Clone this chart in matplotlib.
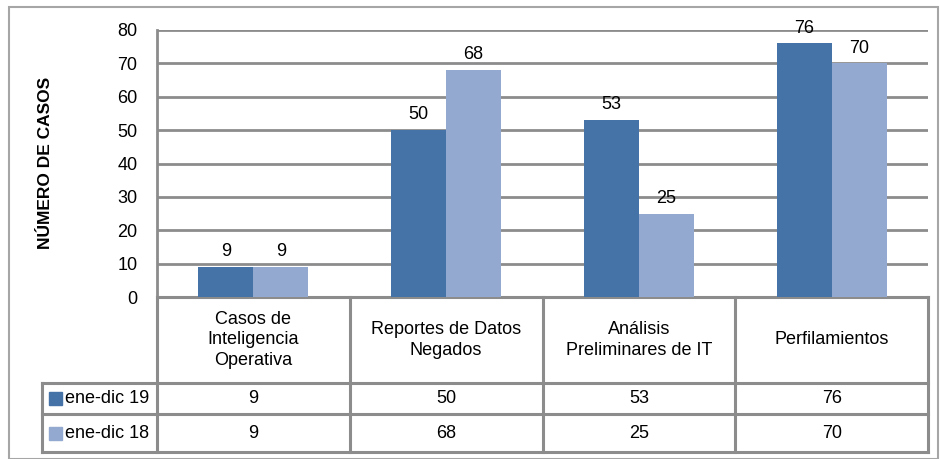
import matplotlib.pyplot as plt
import matplotlib.transforms as mtransforms
from matplotlib.patches import Rectangle
import numpy as np

plt.rcParams['font.family'] = ['Liberation Sans', 'DejaVu Sans']

categories = ["Casos de\nInteligencia\nOperativa", "Reportes de Datos\nNegados",
              "Análisis\nPreliminares de IT", "Perfilamientos"]
series_names = ["ene-dic 19", "ene-dic 18"]
vals_19 = [9, 50, 53, 76]
vals_18 = [9, 68, 25, 70]
colors = ["#4572A7", "#93A9CF"]
grid_col = "#8C8C8C"
fs = 13

W, H = 940, 459
fig = plt.figure(figsize=(W / 100, H / 100), dpi=100)

# outer frame
fig.patches.append(Rectangle((9 / W, 0), 929 / W, 1 - 7 / H, transform=fig.transFigure,
                             fill=False, edgecolor="#A6A6A6", lw=1.5))

left, right, top, bottom = 157, 928, 30, 297
ax = fig.add_axes([left / W, 1 - bottom / H, (right - left) / W, (bottom - top) / H])

x = np.arange(len(categories))
bw = 0.285
ax.bar(x - bw / 2, vals_19, bw, color=colors[0], zorder=3)
ax.bar(x + bw / 2, vals_18, bw, color=colors[1], zorder=3)
for xi, v in zip(x, vals_19):
    ax.text(xi - bw / 2, v + 2, str(v), ha="center", va="bottom", fontsize=fs, zorder=4)
for xi, v in zip(x, vals_18):
    ax.text(xi + bw / 2, v + 2, str(v), ha="center", va="bottom", fontsize=fs, zorder=4)

ax.set_xlim(-0.5, len(categories) - 0.5)
ax.set_ylim(0, 80)
ax.set_yticks(range(0, 81, 10))
ax.yaxis.grid(True, color=grid_col, lw=2)
ax.set_axisbelow(True)
ax.tick_params(axis="y", length=0, pad=14, labelsize=fs)
ax.set_xticks([])
for s in ["top", "right", "bottom"]:
    ax.spines[s].set_visible(False)
ax.spines["left"].set_color(grid_col)
ax.spines["left"].set_linewidth(2)

fig.text(46 / W, 1 - 163 / H, "NÚMERO DE CASOS", rotation=90, ha="center", va="center",
         fontsize=12.5, fontweight="bold", family=["Liberation Sans Narrow", "Liberation Sans"])

# data table below the axes
tr = mtransforms.blended_transform_factory(ax.transData, ax.transAxes)
def ypos(py):
    return (bottom - py) / (bottom - top)
def xpos(px):
    return -0.5 + (px - left) / ((right - left) / len(categories))

y_head, y_r1, y_r2 = ypos(383), ypos(414), ypos(452)
x_leg = xpos(42)
lk = dict(color=grid_col, lw=2.2, transform=tr, clip_on=False, solid_capstyle="projecting")

ax.plot([-0.5, 3.5], [0, 0], **lk)
ax.plot([-0.5, -0.5], [0, y_r2], **lk)
for b in [0.5, 1.5, 2.5, 3.5]:
    ax.plot([b, b], [0, y_r2], **lk)
for yy in [y_head, y_r1, y_r2]:
    ax.plot([x_leg, 3.5], [yy, yy], **lk)
ax.plot([x_leg, x_leg], [y_head, y_r2], **lk)

for xi, c in zip(x, categories):
    ax.text(xi, (0 + y_head) / 2, c, ha="center", va="center", fontsize=fs,
            transform=tr, linespacing=1.25)

row_px = [(383 + 414) / 2, (414 + 452) / 2]
for rp, vals, name, col in zip(row_px, [vals_19, vals_18], series_names, colors):
    ry = ypos(rp)
    for xi, v in zip(x, vals):
        ax.text(xi, ry, str(v), ha="center", va="center", fontsize=fs, transform=tr)
    fig.patches.append(Rectangle((49 / W, 1 - (rp + 6.5) / H), 13 / W, 13 / H,
                                 color=col, transform=fig.transFigure))
    ax.text(xpos(65), ry, name, ha="left", va="center", fontsize=fs, transform=tr)

fig.savefig("out.png", dpi=100)
